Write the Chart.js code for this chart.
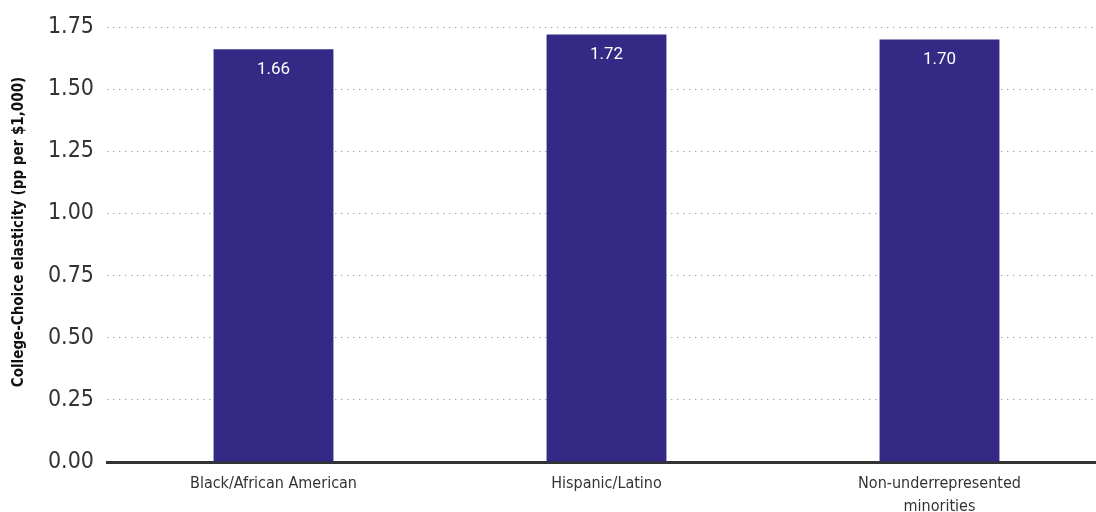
<!DOCTYPE html>
<html>
<head>
<meta charset="utf-8">
<script src="https://cdn.jsdelivr.net/npm/chart.js@4"></script>
<style>
  html, body { margin: 0; padding: 0; background: #fff; overflow: hidden; }
  #wrap { width: 1110px; height: 512px; position: relative; }
</style>
</head>
<body>
<div id="wrap"><canvas id="chart"></canvas></div>
<script>
// Chart data
const categories = ['Black/African American', 'Hispanic/Latino', ['Non-underrepresented', 'minorities']];
const elasticity = [1.66, 1.72, 1.70];
const yTicks = [0, 0.25, 0.5, 0.75, 1.0, 1.25, 1.5, 1.75];
const yTitle = 'College-Choice elasticity (pp per $1,000)';

const narrow = "'Liberation Sans Narrow', 'DejaVu Sans Condensed', 'Roboto', sans-serif";

// white values near the top of each bar, plus the rotated axis title
const valueLabels = {
    id: 'valueLabels',
    afterDatasetsDraw(chart) {
        const ctx = chart.ctx;
        const meta = chart.getDatasetMeta(0);
        ctx.save();
        ctx.fillStyle = '#ffffff';
        ctx.font = "17px 'Roboto', sans-serif";
        ctx.textAlign = 'center';
        ctx.textBaseline = 'middle';
        meta.data.forEach((bar, i) => {
            const { x, y } = bar.getProps(['x', 'y'], true);
            ctx.fillText(elasticity[i].toFixed(2), x, y + 20);
        });
        ctx.restore();

        // axis title sits a little above the plot centre in the original
        ctx.save();
        ctx.translate(19, 232);
        ctx.rotate(-Math.PI / 2);
        ctx.fillStyle = '#111111';
        ctx.font = "bold 15px " + narrow;
        ctx.textAlign = 'center';
        ctx.textBaseline = 'middle';
        ctx.fillText(yTitle, 0, 0);
        ctx.restore();
    }
};

new Chart(document.getElementById('chart'), {
    type: 'bar',
    data: {
        labels: categories,
        datasets: [{
            data: elasticity,
            backgroundColor: '#342985',
            barPercentage: 0.36,
            categoryPercentage: 1.0
        }]
    },
    options: {
        responsive: true,
        maintainAspectRatio: false,
        animation: false,
        layout: { padding: { top: 27, right: 4, left: 0, bottom: 0 } },
        plugins: {
            legend: { display: false },
            tooltip: { enabled: false }
        },
        scales: {
            x: {
                grid: { display: false, drawTicks: false },
                border: { display: true, color: '#333333', width: 3 },
                ticks: {
                    color: '#333333',
                    font: { family: narrow, size: 16, lineHeight: 1.4 },
                    padding: 11,
                    maxRotation: 0
                },
                afterFit(scale) { scale.height = 50; }
            },
            y: {
                min: 0,
                max: 1.75,
                afterBuildTicks(scale) {
                    scale.ticks = yTicks.map(v => ({ value: v }));
                },
                grid: {
                    color: '#a8a8a8',
                    lineWidth: 1,
                    drawTicks: false
                },
                border: { display: false, dash: [1.5, 4.5] },
                ticks: {
                    color: '#333333',
                    font: { family: narrow, size: 23 },
                    padding: 13,
                    callback: v => Number(v).toFixed(2)
                },
                title: { display: false },
                afterFit(scale) { scale.width = 107; }
            }
        }
    },
    plugins: [valueLabels]
});
</script>
</body>
</html>
